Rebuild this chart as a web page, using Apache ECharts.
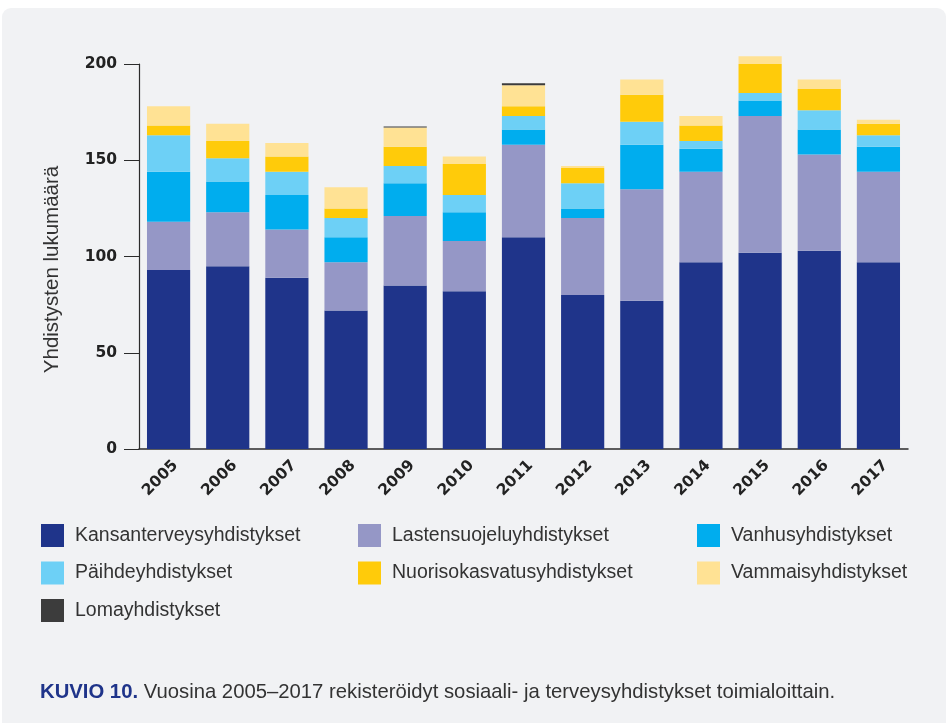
<!DOCTYPE html>
<html>
<head>
<meta charset="utf-8">
<script src="https://cdn.jsdelivr.net/npm/echarts@6/dist/echarts.min.js"></script>
<style>
  html, body { margin: 0; padding: 0; background: #ffffff; }
  #chart { width: 948px; height: 723px; }
</style>
</head>
<body>
<div id="chart"></div>
<script>
// vuodet
const years = ['2005', '2006', '2007', '2008', '2009', '2010', '2011', '2012', '2013', '2014', '2015', '2016', '2017'];

// toimialat (luettu kuvasta)
const kansanterveys = [93, 95, 89, 72, 85, 82, 110, 80, 77, 97, 102, 103, 97];
const lastensuojelu = [25, 28, 25, 25, 36, 26, 48, 40, 58, 47, 71, 50, 47];
const vanhus = [26, 16, 18, 13, 17, 15, 8, 5, 23, 12, 8, 13, 13];
const paihde = [19, 12, 12, 10, 9, 9, 7, 13, 12, 4, 4, 10, 6];
const nuorisokasvatus = [5, 9, 8, 5, 10, 16, 5, 8, 14, 8, 15, 11, 6];
const vammais = [10, 9, 7, 11, 10, 4, 11, 1, 8, 5, 4, 5, 2];
const loma = [0, 0, 0, 0, 0.5, 0, 1, 0, 0, 0, 0, 0, 0];

const textFont = '"Liberation Sans", Arial, sans-serif';
const numFont = '"DejaVu Sans", sans-serif';

const seriesDefs = [
  { name: 'Kansanterveysyhdistykset', data: kansanterveys, color: '#1f348a' },
  { name: 'Lastensuojeluyhdistykset', data: lastensuojelu, color: '#9597c6' },
  { name: 'Vanhusyhdistykset', data: vanhus, color: '#00adee' },
  { name: 'Päihdeyhdistykset', data: paihde, color: '#6dd0f6' },
  { name: 'Nuorisokasvatusyhdistykset', data: nuorisokasvatus, color: '#ffcb0a' },
  { name: 'Vammaisyhdistykset', data: vammais, color: '#ffe294' },
  { name: 'Lomayhdistykset', data: loma, color: '#3c3c3c' }
];

const legendBase = {
  orient: 'vertical',
  icon: 'rect',
  itemWidth: 23,
  itemHeight: 23,
  itemGap: 14.5,
  top: 519,
  selectedMode: false,
  textStyle: {
    fontFamily: textFont,
    fontSize: 19.5,
    color: '#333',
    padding: [0, 0, 0, 6]
  }
};

const chart = echarts.init(document.getElementById('chart'));

const option = {
  backgroundColor: '#ffffff',
  animation: false,
  graphic: [{
    type: 'rect',
    z: -10,
    silent: true,
    shape: { x: 2, y: 8, width: 944, height: 730, r: 9 },
    style: { fill: '#f1f2f4' }
  }],
  title: {
    left: 35,
    top: 677,
    text: '{b|KUVIO 10.} Vuosina 2005–2017 rekisteröidyt sosiaali- ja terveysyhdistykset toimialoittain.',
    textStyle: {
      fontFamily: textFont,
      fontSize: 20.3,
      fontWeight: 'normal',
      color: '#333',
      rich: {
        b: { fontFamily: textFont, fontSize: 20.3, fontWeight: 'bold', color: '#1f348a' }
      }
    }
  },
  legend: [
    Object.assign({}, legendBase, { left: 36, data: ['Kansanterveysyhdistykset', 'Päihdeyhdistykset', 'Lomayhdistykset'] }),
    Object.assign({}, legendBase, { left: 353, data: ['Lastensuojeluyhdistykset', 'Nuorisokasvatusyhdistykset'] }),
    Object.assign({}, legendBase, { left: 692, data: ['Vanhusyhdistykset', 'Vammaisyhdistykset'] })
  ],
  grid: {
    left: 139,
    right: 40,
    top: 64,
    bottom: 274
  },
  xAxis: {
    type: 'category',
    data: years,
    axisLine: { lineStyle: { color: '#2b2b2b', width: 1.5 } },
    axisTick: { show: false },
    axisLabel: {
      rotate: 45,
      margin: 21,
      padding: [0, -10, 0, 0],
      fontFamily: numFont,
      fontSize: 15.5,
      fontWeight: 'bold',
      color: '#222'
    }
  },
  yAxis: {
    type: 'value',
    min: 0,
    max: 200,
    interval: 50,
    name: 'Yhdistysten lukumäärä',
    nameLocation: 'middle',
    nameGap: 76,
    nameTextStyle: {
      fontFamily: textFont,
      fontSize: 20.5,
      color: '#333',
      padding: [0, 0, 0, -26]
    },
    axisLine: { show: true, lineStyle: { color: '#2b2b2b', width: 1.2 } },
    axisTick: { show: true, length: 15, lineStyle: { color: '#2b2b2b' } },
    splitLine: { show: false },
    axisLabel: {
      margin: 22,
      fontFamily: numFont,
      fontSize: 15.5,
      fontWeight: 'bold',
      color: '#222'
    }
  },
  series: seriesDefs.map(s => ({
    type: 'bar',
    name: s.name,
    stack: 'total',
    data: s.data,
    clip: false,
    barCategoryGap: '27%',
    itemStyle: { color: s.color },
    emphasis: { disabled: true }
  }))
};

chart.setOption(option);
</script>
</body>
</html>
